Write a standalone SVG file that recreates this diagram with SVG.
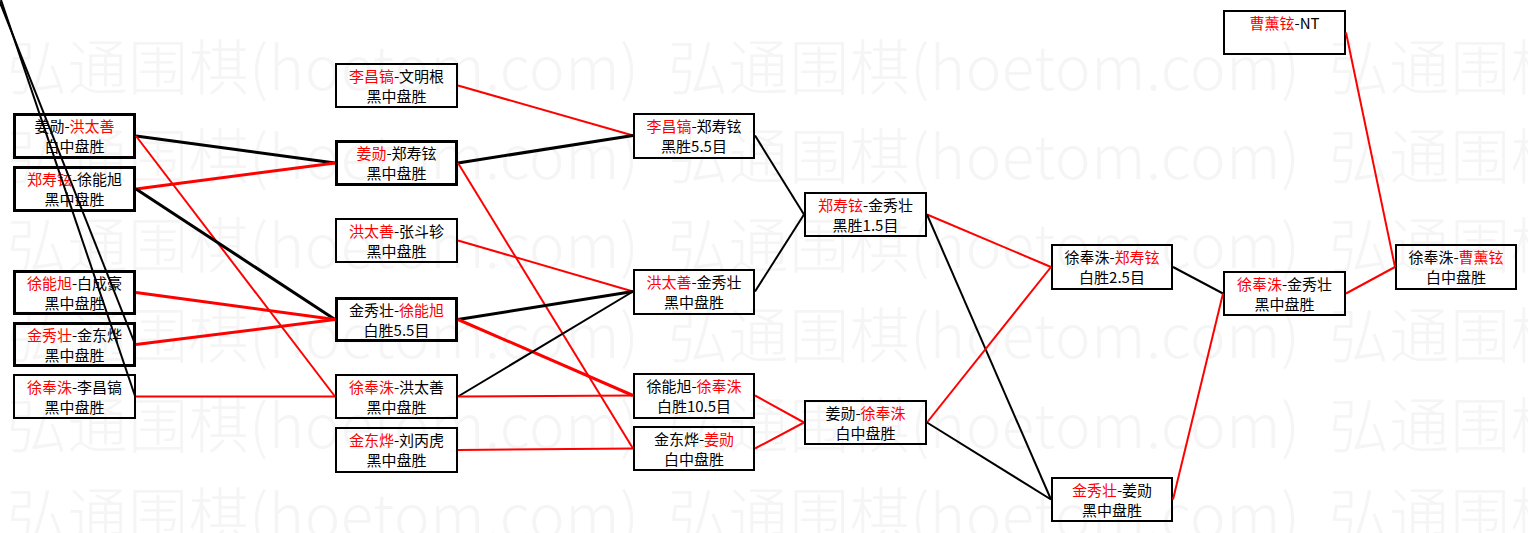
<svg xmlns="http://www.w3.org/2000/svg" xmlns:xlink="http://www.w3.org/1999/xlink" width="1528" height="533" viewBox="0 0 1528 533">
<style>
.box{fill:none;stroke:#000;stroke-width:2}
.thick{stroke-width:3}
.t{font-family:"Noto Sans CJK SC","Noto Sans CJK JP",sans-serif;font-size:15px;text-anchor:middle;fill:#000}
.r{fill:#ff0000}
.lb{stroke:#000;stroke-width:2;fill:none}
.lr{stroke:#ff0000;stroke-width:2;fill:none}
.w3{stroke-width:3}
.wm{font-family:"Noto Sans CJK SC",sans-serif;font-size:60px;font-weight:300;fill:#f5f5f5}
</style>
<defs>
<text id="wm" class="wm" textLength="632" lengthAdjust="spacing">弘通围棋(hoetom.com)</text>
</defs>
<rect width="1528" height="533" fill="#fff"/>
<g id="watermark">
<use xlink:href="#wm" x="7" y="90"/><use xlink:href="#wm" x="668" y="90"/><use xlink:href="#wm" x="1329" y="90"/>
<use xlink:href="#wm" x="7" y="179"/><use xlink:href="#wm" x="668" y="179"/><use xlink:href="#wm" x="1329" y="179"/>
<use xlink:href="#wm" x="7" y="268"/><use xlink:href="#wm" x="668" y="268"/><use xlink:href="#wm" x="1329" y="268"/>
<use xlink:href="#wm" x="7" y="358"/><use xlink:href="#wm" x="668" y="358"/><use xlink:href="#wm" x="1329" y="358"/>
<use xlink:href="#wm" x="7" y="448"/><use xlink:href="#wm" x="668" y="448"/><use xlink:href="#wm" x="1329" y="448"/>
<use xlink:href="#wm" x="7" y="538"/><use xlink:href="#wm" x="668" y="538"/><use xlink:href="#wm" x="1329" y="538"/>
</g>

<g id="n1"><rect class="box thick" x="14.5" y="114.5" width="120" height="43"/><text class="t" x="74.5" y="132">姜勋-<tspan class="r">洪太善</tspan></text><text class="t" x="74.5" y="152">白中盘胜</text></g>
<g id="n2"><rect class="box thick" x="14.5" y="167.5" width="120" height="43"/><text class="t" x="74.5" y="185"><tspan class="r">郑寿铉</tspan>-徐能旭</text><text class="t" x="74.5" y="205">黑中盘胜</text></g>
<g id="n3"><rect class="box thick" x="14.5" y="271.5" width="120" height="42"/><text class="t" x="74.5" y="289"><tspan class="r">徐能旭</tspan>-白成豪</text><text class="t" x="74.5" y="309">黑中盘胜</text></g>
<g id="n4"><rect class="box thick" x="14.5" y="323.5" width="120" height="42"/><text class="t" x="74.5" y="341"><tspan class="r">金秀壮</tspan>-金东烨</text><text class="t" x="74.5" y="361">黑中盘胜</text></g>
<g id="n5"><rect class="box" x="14" y="375" width="121" height="43"/><text class="t" x="74.5" y="393"><tspan class="r">徐奉洙</tspan>-李昌镐</text><text class="t" x="74.5" y="413">黑中盘胜</text></g>

<g id="n6"><rect class="box" x="336" y="64" width="121" height="43"/><text class="t" x="396.5" y="82"><tspan class="r">李昌镐</tspan>-文明根</text><text class="t" x="396.5" y="102">黑中盘胜</text></g>
<g id="n7"><rect class="box thick" x="336.5" y="141.5" width="120" height="43"/><text class="t" x="396.5" y="159"><tspan class="r">姜勋</tspan>-郑寿铉</text><text class="t" x="396.5" y="179">黑中盘胜</text></g>
<g id="n8"><rect class="box" x="336" y="219" width="121" height="43"/><text class="t" x="396.5" y="237"><tspan class="r">洪太善</tspan>-张斗轸</text><text class="t" x="396.5" y="257">黑中盘胜</text></g>
<g id="n9"><rect class="box thick" x="336.5" y="298.5" width="120" height="42"/><text class="t" x="396.5" y="316">金秀壮-<tspan class="r">徐能旭</tspan></text><text class="t" x="396.5" y="336">白胜5.5目</text></g>
<g id="n10"><rect class="box" x="336" y="375" width="121" height="43"/><text class="t" x="396.5" y="393"><tspan class="r">徐奉洙</tspan>-洪太善</text><text class="t" x="396.5" y="413">黑中盘胜</text></g>
<g id="n11"><rect class="box" x="336" y="428" width="121" height="44"/><text class="t" x="396.5" y="446"><tspan class="r">金东烨</tspan>-刘丙虎</text><text class="t" x="396.5" y="466">黑中盘胜</text></g>

<g id="n12"><rect class="box" x="634" y="114" width="120" height="44"/><text class="t" x="694" y="132"><tspan class="r">李昌镐</tspan>-郑寿铉</text><text class="t" x="694" y="152">黑胜5.5目</text></g>
<g id="n13"><rect class="box" x="634" y="270" width="120" height="44"/><text class="t" x="694" y="288"><tspan class="r">洪太善</tspan>-金秀壮</text><text class="t" x="694" y="308">黑中盘胜</text></g>
<g id="n14"><rect class="box" x="634" y="374" width="120" height="44"/><text class="t" x="694" y="392">徐能旭-<tspan class="r">徐奉洙</tspan></text><text class="t" x="694" y="412">白胜10.5目</text></g>
<g id="n15"><rect class="box" x="634" y="427" width="120" height="43"/><text class="t" x="694" y="445">金东烨-<tspan class="r">姜勋</tspan></text><text class="t" x="694" y="465">白中盘胜</text></g>

<g id="n16"><rect class="box" x="805" y="193" width="121" height="43"/><text class="t" x="865.5" y="211"><tspan class="r">郑寿铉</tspan>-金秀壮</text><text class="t" x="865.5" y="231">黑胜1.5目</text></g>
<g id="n17"><rect class="box" x="805" y="401" width="121" height="43"/><text class="t" x="865.5" y="419">姜勋-<tspan class="r">徐奉洙</tspan></text><text class="t" x="865.5" y="439">白中盘胜</text></g>

<g id="n18"><rect class="box" x="1052" y="245" width="120" height="44"/><text class="t" x="1112" y="263">徐奉洙-<tspan class="r">郑寿铉</tspan></text><text class="t" x="1112" y="283">白胜2.5目</text></g>
<g id="n19"><rect class="box" x="1052" y="478" width="120" height="43"/><text class="t" x="1112" y="496"><tspan class="r">金秀壮</tspan>-姜勋</text><text class="t" x="1112" y="516">黑中盘胜</text></g>

<g id="n20"><rect class="box" x="1224" y="11" width="121" height="43"/><text class="t" x="1284.5" y="29"><tspan class="r">曹薰铉</tspan>-NT</text></g>
<g id="n21"><rect class="box" x="1224" y="272" width="121" height="43"/><text class="t" x="1284.5" y="290"><tspan class="r">徐奉洙</tspan>-金秀壮</text><text class="t" x="1284.5" y="310">黑中盘胜</text></g>

<g id="n22"><rect class="box" x="1396" y="245" width="120" height="44"/><text class="t" x="1456" y="263">徐奉洙-<tspan class="r">曹薰铉</tspan></text><text class="t" x="1456" y="283">白中盘胜</text></g>

<g id="connectors">
<line class="lb" x1="1" y1="0" x2="135" y2="396"/>
<line class="lb" x1="-1" y1="0" x2="135" y2="344"/>
<line class="lb w3" x1="136" y1="136" x2="335" y2="163"/>
<line class="lr" x1="136" y1="136" x2="335" y2="396.5"/>
<line class="lr w3" x1="136" y1="189" x2="335" y2="163"/>
<line class="lb w3" x1="136" y1="189" x2="335" y2="319.5"/>
<line class="lr w3" x1="136" y1="292.5" x2="335" y2="319.5"/>
<line class="lr w3" x1="136" y1="344.5" x2="335" y2="319.5"/>
<line class="lr" x1="136" y1="396.5" x2="335" y2="396.5"/>

<line class="lr" x1="458" y1="85.5" x2="633" y2="135.5"/>
<line class="lb w3" x1="458" y1="163" x2="633" y2="135.5"/>
<line class="lr" x1="458" y1="163" x2="633" y2="448.5"/>
<line class="lr" x1="458" y1="240.5" x2="633" y2="291.5"/>
<line class="lb w3" x1="458" y1="319.5" x2="633" y2="291.5"/>
<line class="lr w3" x1="458" y1="319.5" x2="633" y2="395.5"/>
<line class="lb" x1="458" y1="396.5" x2="633" y2="291.5"/>
<line class="lr" x1="458" y1="396.5" x2="633" y2="395.5"/>
<line class="lr" x1="458" y1="450" x2="633" y2="448.5"/>

<line class="lb" x1="755" y1="135.5" x2="804" y2="214.5"/>
<line class="lb" x1="755" y1="291.5" x2="804" y2="214.5"/>
<line class="lr" x1="755" y1="395.5" x2="804" y2="422.5"/>
<line class="lr" x1="755" y1="448.5" x2="804" y2="422.5"/>

<line class="lr" x1="927" y1="214.5" x2="1051" y2="267"/>
<line class="lb" x1="927" y1="214.5" x2="1051" y2="499.5"/>
<line class="lr" x1="927" y1="422.5" x2="1051" y2="267"/>
<line class="lb" x1="927" y1="422.5" x2="1051" y2="499.5"/>

<line class="lb" x1="1173" y1="267" x2="1223" y2="293.5"/>
<line class="lr" x1="1173" y1="499.5" x2="1223" y2="293.5"/>

<line class="lr" x1="1346" y1="293.5" x2="1395" y2="267"/>
<line class="lr" x1="1346" y1="32.5" x2="1395" y2="267"/>
</g>
</svg>
